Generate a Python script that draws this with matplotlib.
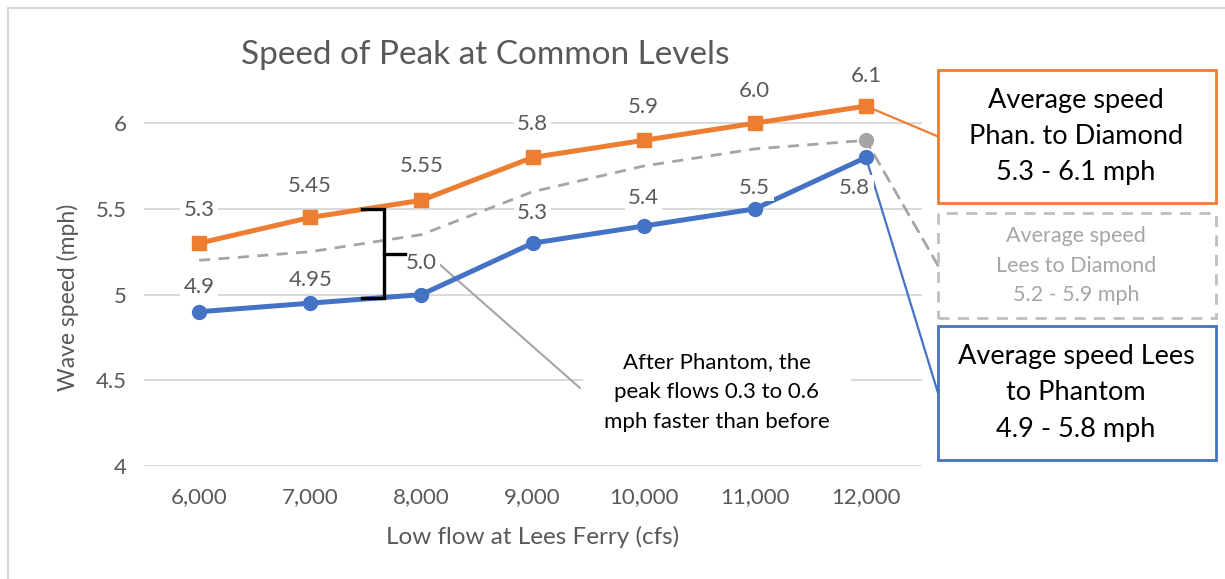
import numpy as np
import matplotlib.pyplot as plt
from matplotlib.patches import Rectangle

# category axis
flows = ['6,000', '7,000', '8,000', '9,000', '10,000', '11,000', '12,000']

# series values (mph)
phan_to_diamond = [5.3, 5.45, 5.55, 5.8, 5.9, 6.0, 6.1]
phan_labels = ['5.3', '5.45', '5.55', '5.8', '5.9', '6.0', '6.1']
lees_to_phantom = [4.9, 4.95, 5.0, 5.3, 5.4, 5.5, 5.8]
lees_labels = ['4.9', '4.95', '5.0', '5.3', '5.4', '5.5', '5.8']
lees_to_diamond = [5.2, 5.25, 5.35, 5.6, 5.75, 5.85, 5.9]

ORANGE = '#ED7D31'
BLUE = '#4472C4'
GRAY = '#A5A5A5'
TXT = '#595959'
GRID = '#D9D9D9'

plt.rcParams['font.family'] = ['Lato', 'DejaVu Sans']

W, H = 1225, 579
fig = plt.figure(figsize=(W / 100, H / 100), dpi=100)
fig.set_facecolor('white')


def fx(px):
    return px / W


def fy(py):
    return 1 - py / H


ax = fig.add_axes([fx(143.5), fy(466), fx(921.5) - fx(143.5), fy(37.5) - fy(466)])
x = np.arange(len(flows))

ax.plot(x, lees_to_diamond, color=GRAY, lw=2, ls=(0, (4, 3)), zorder=2)
ax.plot(x[-1:], lees_to_diamond[-1:], 'o', color=GRAY, ms=10, zorder=3)
ax.plot(x, phan_to_diamond, color=ORANGE, lw=3.6, marker='s', ms=10, zorder=4)
ax.plot(x, lees_to_phantom, color=BLUE, lw=3.6, marker='o', ms=10, zorder=4)

# data labels (offsets in points)
phan_off = [(0, 24), (0, 23), (0, 25), (0, 24), (0, 24), (0, 23), (0, 22)]
lees_off = [(0, 18), (0, 17), (0, 23), (0, 22), (0, 20), (0, 15), (-8, -22)]
lbl_box = dict(boxstyle='square,pad=0.15', fc='white', ec='none')
for i in range(len(flows)):
    ax.annotate(phan_labels[i], (x[i], phan_to_diamond[i]), xytext=phan_off[i],
                textcoords='offset points', ha='center', va='center',
                fontsize=16, color=TXT, bbox=lbl_box, zorder=5)
    ax.annotate(lees_labels[i], (x[i], lees_to_phantom[i]), xytext=lees_off[i],
                textcoords='offset points', ha='center', va='center',
                fontsize=16, color=TXT, bbox=lbl_box, zorder=5)

ax.set_xlim(-0.5, 6.5)
ax.set_ylim(4, 6.5)
ax.set_xticks(x)
ax.set_xticklabels(flows)
ax.set_yticks([4, 4.5, 5, 5.5, 6])
ax.set_yticklabels(['4', '4.5', '5', '5.5', '6'])
ax.tick_params(length=0, labelsize=16, labelcolor=TXT)
ax.tick_params(axis='x', pad=15)
ax.tick_params(axis='y', pad=12)
ax.yaxis.grid(True, color=GRID, lw=1.4)
ax.set_axisbelow(True)
for s in ax.spines.values():
    s.set_visible(False)

ax.set_xlabel('Low flow at Lees Ferry (cfs)', fontsize=17.5, color=TXT, va='center')
ax.xaxis.set_label_coords(0.5, (466 - 537) / 428.5)
ax.set_ylabel('Wave speed (mph)', fontsize=16.5, color=TXT, va='center')
ax.yaxis.set_label_coords((68 - 143.5) / 778, (466 - 297) / 428.5)

fig.text(fx(485), fy(55), 'Speed of Peak at Common Levels', fontsize=24,
         color=TXT, ha='center', va='center')

# bracket showing the gap
bx = 1.66
ax.plot([bx - 0.19, bx, bx, bx - 0.19], [5.5, 5.5, 4.98, 4.98], color='black', lw=2.4, zorder=6,
        solid_joinstyle='miter')
ax.plot([bx, bx + 0.19], [5.235, 5.235], color='black', lw=2.4, zorder=6)

# note with leader line
ax.annotate('', xy=(2.07, 5.23), xycoords='data', xytext=(fx(580), fy(388)),
            textcoords='figure fraction',
            arrowprops=dict(arrowstyle='-', color=GRAY, lw=1.5, shrinkA=0, shrinkB=0),
            zorder=3)
fig.text(fx(717), fy(392), 'After Phantom, the\npeak flows 0.3 to 0.6\nmph faster than before',
         ha='center', va='center', fontsize=16, color='black', linespacing=1.6,
         bbox=dict(boxstyle='square,pad=0.95', fc='white', ec='none'))

# callout boxes on the right
callouts = [
    ('Average speed\nPhan. to Diamond\n5.3 - 6.1 mph', phan_to_diamond[-1], 70, 203,
     ORANGE, ORANGE, '-', 'black', 19.5, 1.56),
    ('Average speed\nLees to Diamond\n5.2 - 5.9 mph', lees_to_diamond[-1], 213, 318,
     '#BFBFBF', GRAY, (0, (4, 3)), '#A6A6A6', 15.5, 1.62),
    ('Average speed Lees\nto Phantom\n4.9 - 5.8 mph', lees_to_phantom[-1], 326, 460,
     BLUE, BLUE, '-', 'black', 19.5, 1.56),
]
for text, yv, top, bot, ec, lc, ls, tc, fs, lsp in callouts:
    fig.patches.append(Rectangle((fx(938), fy(bot)), fx(1216) - fx(938), fy(top) - fy(bot),
                                 transform=fig.transFigure, fill=False, ec=ec, lw=2, ls=ls))
    fig.text(fx(1076), fy((top + bot) / 2), text, ha='center', va='center', fontsize=fs,
             color=tc, linespacing=lsp)
    ax.annotate('', xy=(x[-1], yv), xycoords='data',
                xytext=(fx(938), fy((top + bot) / 2)), textcoords='figure fraction',
                arrowprops=dict(arrowstyle='-', color=lc, lw=2 if ls != '-' else 1.6,
                                ls=ls, shrinkA=0, shrinkB=0),
                annotation_clip=False, zorder=1)

# outer frame (top and left edges visible)
fig.add_artist(plt.Line2D([fx(8), 1], [fy(8), fy(8)], color=GRID, lw=1.5,
                          transform=fig.transFigure))
fig.add_artist(plt.Line2D([fx(8), fx(8)], [0, fy(8)], color=GRID, lw=1.5,
                          transform=fig.transFigure))

fig.savefig('out.png', dpi=100)
